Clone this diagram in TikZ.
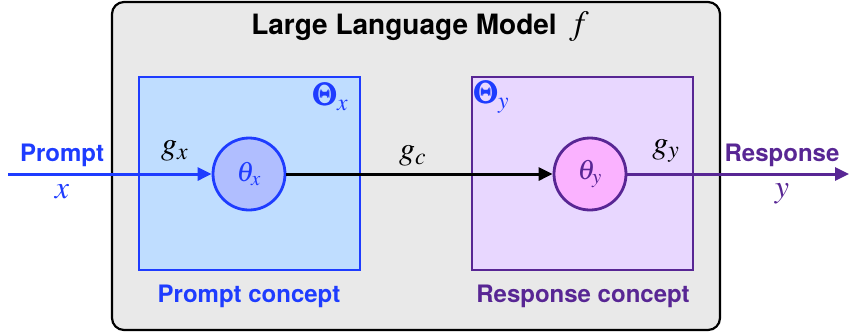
\documentclass[tikz,border=0pt]{standalone}
\usepackage{amsmath}
\usepackage{mathptmx}
\usepackage{fontspec}
\setsansfont{TeX Gyre Heros}
\usetikzlibrary{arrows.meta,positioning}

\definecolor{llmgray}{RGB}{233,233,233}
\definecolor{promptblue}{RGB}{30,60,255}
\definecolor{promptfill}{RGB}{191,221,255}
\definecolor{thetaxfill}{RGB}{176,190,255}
\definecolor{respurple}{RGB}{88,38,148}
\definecolor{respfill}{RGB}{232,215,255}
\definecolor{thetayfill}{RGB}{250,178,255}

\begin{document}
\begin{tikzpicture}[x=0.5pt,y=-0.5pt,>={Triangle[length=7pt,width=6.5pt]},
    line width=1.5pt,
    model/.style={draw=black,line width=1.1pt,fill=llmgray,rounded corners=6pt,
        minimum width=304pt,minimum height=164pt},
    concept/.style={draw=#1,line width=1.4pt,minimum width=110.5pt,minimum height=96.5pt},
    param/.style={circle,draw=#1,line width=1.4pt,minimum size=36pt,inner sep=0pt},
    word/.style={font=\sffamily\bfseries\fontsize{12}{14}\selectfont},
    sym/.style={font=\fontsize{16}{18}\selectfont}]

    \useasboundingbox (0,0) rectangle (851,334);

    \node[model] (llm) at (416,166) {};
    \node[font=\sffamily\bfseries\fontsize{14}{16}\selectfont] (title) at (420,27)
        {Large Language Model \,{\fontsize{17}{19}\selectfont$f$}};

    \node[concept=promptblue,fill=promptfill] (px) at (249.5,173.5) {};
    \node[concept=respurple,fill=respfill]    (py) at (582.5,173.5) {};

    \node[param=promptblue,fill=thetaxfill] (thx) at (249,174)
        {\color{promptblue}\fontsize{14}{16}\selectfont$\theta_x$};
    \node[param=respurple,fill=thetayfill]  (thy) at (590,174)
        {\color{respurple}\fontsize{14}{16}\selectfont$\theta_y$};

    \node[sym,text=promptblue] (bigthx) at (331,97) {$\pmb{\Theta}_x$};
    \node[sym,text=promptblue] (bigthy) at (492,97) {$\pmb{\Theta}_y$};

    \node[word,text=promptblue] (ptxt) at (249,296) {Prompt concept};
    \node[word,text=respurple]  (rtxt) at (583,296) {Response concept};

    \coordinate (in)  at (8,174);
    \coordinate (out) at (849,174);

    \node[word,text=promptblue] (prompt)   at (62,155)  {Prompt};
    \node[sym,text=promptblue]  (xin)      at (62,192)  {$x$};
    \node[word,text=respurple]  (response) at (782,155) {Response};
    \node[sym,text=respurple]   (yout)     at (782,194) {$y$};

    \node[sym] (gx) at (175,151) {$g_x$};
    \node[sym] (gc) at (413,156) {$g_c$};
    \node[sym] (gy) at (666,151) {$g_y$};

    \draw[->,promptblue] (in) -- (thx);
    \draw[->,black] (thx) -- (thy);
    \draw[->,respurple] (thy) -- (out);
\end{tikzpicture}
\end{document}
